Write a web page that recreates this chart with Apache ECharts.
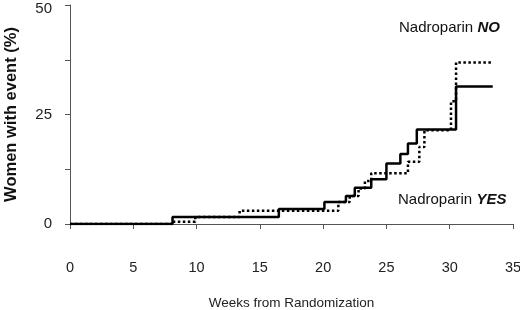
<!DOCTYPE html>
<html>
<head>
<meta charset="utf-8">
<script src="https://cdn.jsdelivr.net/npm/echarts@6/dist/echarts.min.js"></script>
<style>
  html, body { margin: 0; padding: 0; background: #fff; }
  #chart { width: 520px; height: 310px; }
</style>
</head>
<body>
<div id="chart"></div>
<script>
// weeks at which the cumulative curve steps up, and the level after the step (%)
let yesWeeks = [0, 8.1, 16.5, 20.1, 21.8, 22.5, 23.8, 25.0, 26.1, 26.7, 27.4, 30.5, 33.4];
let yesPct   = [0, 1.6, 3.4, 5.0, 6.4, 8.3, 10.2, 13.8, 16.0, 18.4, 21.6, 31.4, 31.4];

let noWeeks = [0, 8.1, 9.9, 13.4, 21.2, 22.1, 22.8, 23.3, 23.8, 26.7, 27.6, 28.0, 30.1, 30.5, 33.4];
let noPct   = [0, 0.5, 1.6, 3.0, 5.0, 6.4, 8.1, 9.8, 11.6, 14.2, 17.6, 21.4, 28.0, 36.9, 36.9];

let yTicks = [0, 25, 50];

let pairs = (xs, ys) => xs.map((x, i) => [x, ys[i]]);

let font = 'Liberation Sans, Arial, sans-serif';
let axisColor = '#555';

let chart = echarts.init(document.getElementById('chart'), null, { renderer: 'canvas' });

//标签文字
let labelStyle = { fontFamily: font, fontSize: 15, fontWeight: 'bold', fontStyle: 'italic', fill: '#111' };

let option = {
    animation: false,
    grid: { left: 70, right: 7, top: 5, bottom: 86, outerBoundsMode: 'none', containLabel: false },
    xAxis: {
        type: 'value',
        min: 0,
        max: 35,
        interval: 5,
        offset: 20,
        name: 'Weeks from Randomization',
        nameLocation: 'middle',
        nameGap: 52,
        nameTextStyle: { fontFamily: font, fontSize: 13.5, color: '#222' },
        splitLine: { show: false },
        axisLine: { show: true, lineStyle: { color: axisColor, width: 1 } },
        axisTick: { show: true, length: 5, lineStyle: { color: axisColor } },
        axisLabel: { margin: 16, fontFamily: font, fontSize: 14.5, color: '#222' }
    },
    yAxis: {
        type: 'value',
        min: 0,
        max: 50,
        interval: 12.5,
        offset: 8,
        name: 'Women with event (%)',
        nameLocation: 'middle',
        nameGap: 42,
        nameTextStyle: { fontFamily: font, fontSize: 16.5, fontWeight: 'bold', color: '#111' },
        splitLine: { show: false },
        axisLine: { show: true, lineStyle: { color: axisColor, width: 1 } },
        axisTick: { show: true, length: 5, lineStyle: { color: axisColor } },
        axisLabel: {
            margin: 10,
            fontFamily: font,
            fontSize: 15,
            color: '#222',
            formatter: v => {
                if (!yTicks.includes(v)) return '';
                return v === 50 ? '{top|50}' : String(v);
            },
            rich: { top: { fontFamily: font, fontSize: 15, color: '#222', padding: [7, 0, 0, 0] } }
        }
    },
    series: [
        {
            name: 'Nadroparin YES',
            type: 'line',
            step: 'end',
            symbol: 'none',
            data: pairs(yesWeeks, yesPct),
            lineStyle: { color: '#000', width: 2.5, type: 'solid' },
            z: 3
        },
        {
            name: 'Nadroparin NO',
            type: 'line',
            step: 'end',
            symbol: 'none',
            data: pairs(noWeeks, noPct),
            lineStyle: { color: '#000', width: 2.5, type: 'dotted' },
            z: 2
        }
    ],
    graphic: [
        {
            type: 'text',
            left: 399,
            top: 20,
            style: { text: 'Nadroparin {b|NO}', font: '15px ' + font, fill: '#111', rich: { b: labelStyle } }
        },
        {
            type: 'text',
            left: 398,
            top: 192,
            style: { text: 'Nadroparin {b|YES}', font: '15px ' + font, fill: '#111', rich: { b: labelStyle } }
        }
    ]
};

chart.setOption(option);
</script>
</body>
</html>
